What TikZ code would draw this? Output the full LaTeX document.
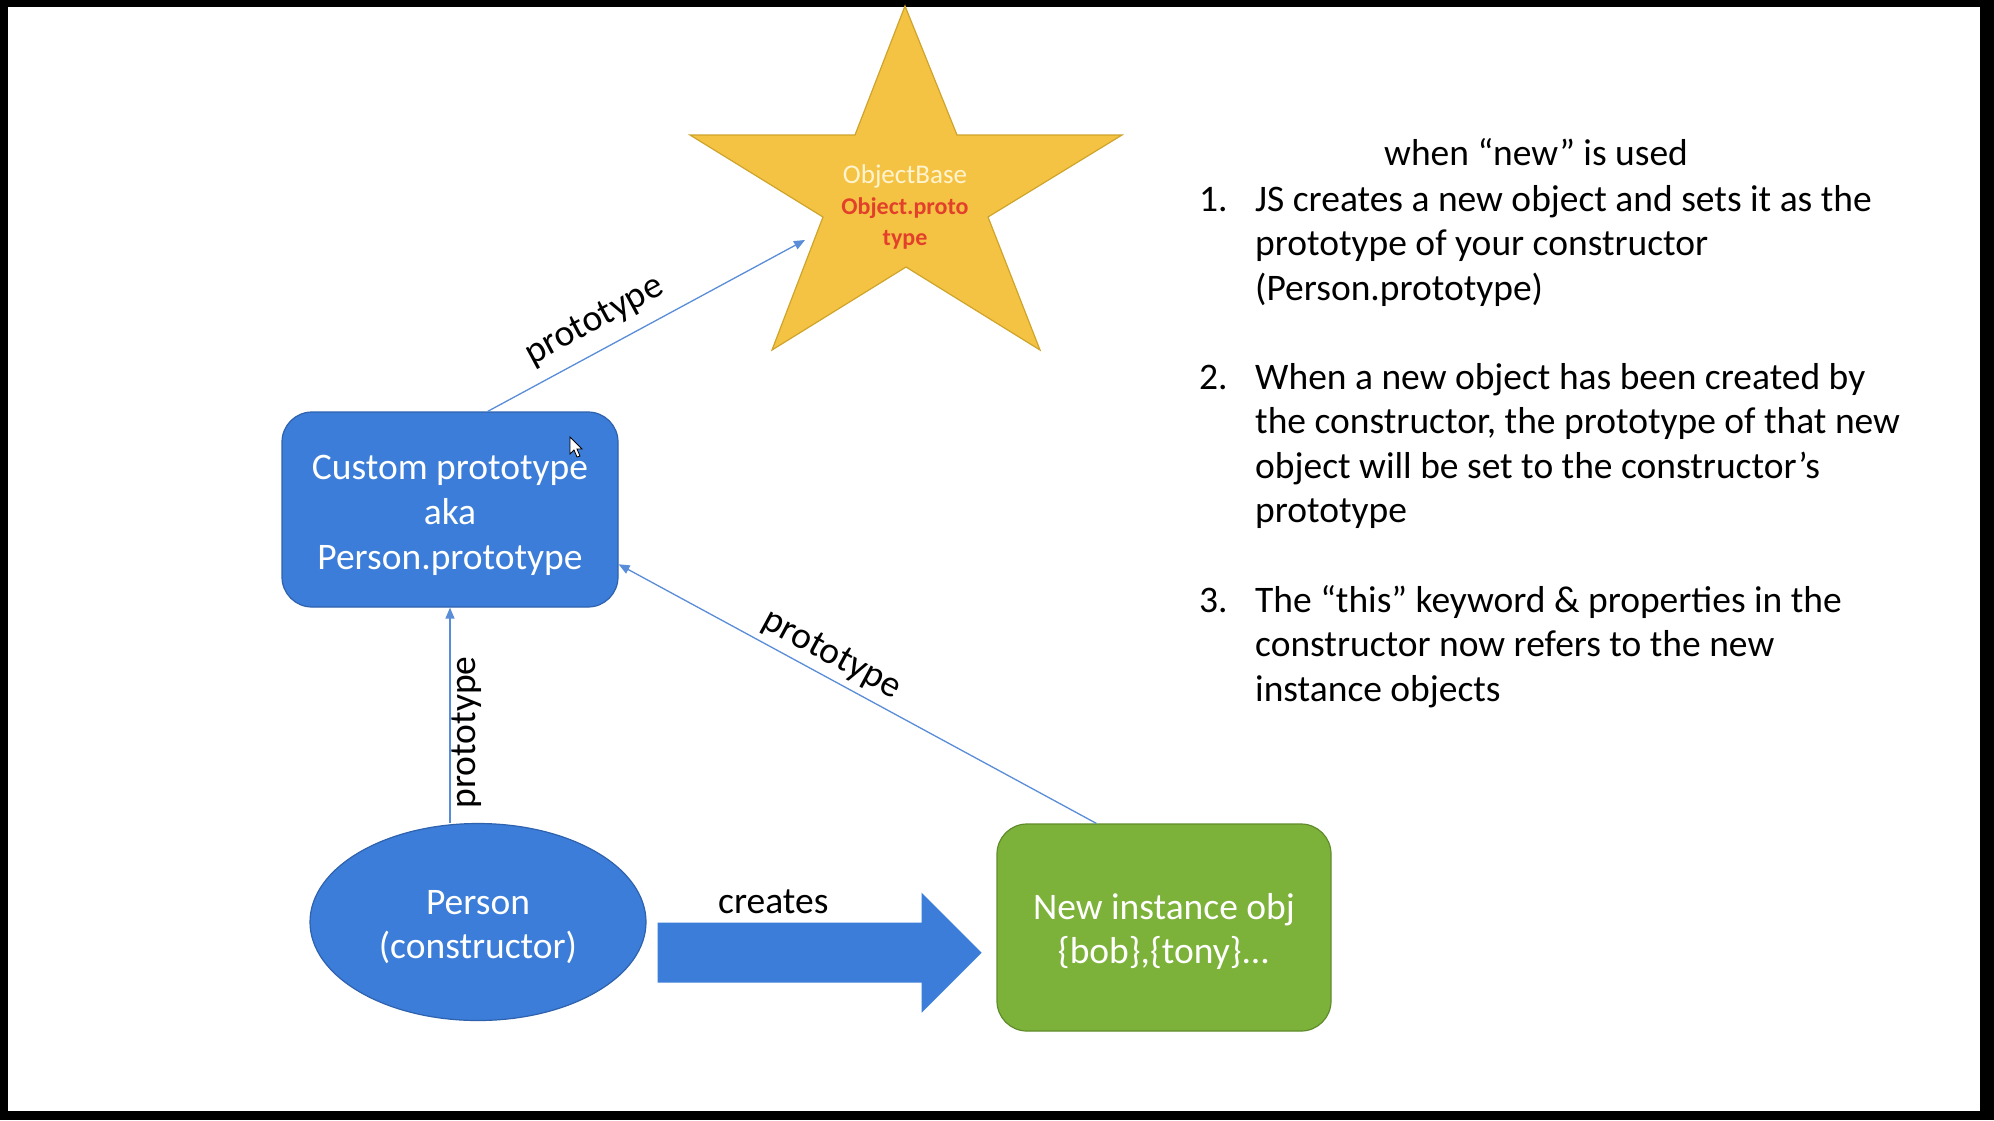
\documentclass[tikz,border=0pt]{standalone}
\usepackage{fontspec}
\setmainfont{Carlito}
\usepackage{xcolor}
\usetikzlibrary{arrows.meta,shapes.geometric}

\definecolor{boxblue}{HTML}{3B7DD8}
\definecolor{boxedge}{HTML}{2F62AE}
\definecolor{instgreen}{HTML}{7DB23A}
\definecolor{instedge}{HTML}{5F8C2B}
\definecolor{stargold}{HTML}{F5C343}
\definecolor{staredge}{HTML}{CFA42A}
\definecolor{linkblue}{HTML}{5A8DD8}
\definecolor{basetext}{HTML}{FFF4CF}
\definecolor{prototext}{HTML}{E2402B}

\begin{document}
\begin{tikzpicture}[x=1pt,y=-1pt,
  txt/.style={font=\fontsize{37.5}{44.6}\selectfont, inner sep=0pt},
  protobox/.style={txt, rectangle, rounded corners=30pt, draw=boxedge, line width=1.2pt,
    fill=boxblue, text=white, align=center, minimum width=336pt, minimum height=195pt},
  ctornode/.style={txt, ellipse, draw=boxedge, line width=1.2pt, fill=boxblue,
    text=white, align=center, minimum width=336pt, minimum height=197pt},
  instbox/.style={txt, rectangle, rounded corners=30pt, draw=instedge, line width=1.2pt,
    fill=instgreen, text=white, align=center, minimum width=334pt, minimum height=207pt},
  protoline/.style={draw=linkblue, line width=1.3pt, -{Triangle[length=11pt,width=9pt]}},
  lbl/.style={txt, text=black}]

% screen frame
\fill[black] (0,0) rectangle (1994,1120);
\fill[white] (8,7) rectangle (1980,1111);

% ObjectBase star
\filldraw[fill=stargold, draw=staredge, line width=1.2pt]
  (905,6) -- (957,135) -- (1122,135) -- (988,217) -- (1040,350)
  -- (906,267) -- (772,350) -- (823,217) -- (690,135) -- (855,135) -- cycle;
\node[inner sep=0pt, anchor=base, align=center, font=\fontsize{24}{31}\selectfont] (objbase) at (905,245)
  {{\fontsize{27}{31}\selectfont\textcolor{basetext}{ObjectBase}}\\\textcolor{prototext}{\bfseries Object.proto}\\\textcolor{prototext}{\bfseries type}};
\coordinate (starhit) at (805,240);

% nodes
\node[protobox] (custom) at (450,509.5) {\rule{0pt}{36pt}Custom prototype\\aka\\Person.prototype};
\node[ctornode] (person) at (478,922) {\rule{0pt}{34pt}Person\\(constructor)};
\node[instbox] (inst) at (1164,927.5) {\rule{0pt}{34pt}New instance obj\\\{bob\},\{tony\}...};

% mouse pointer
\filldraw[fill=white, draw=black, line width=0.8pt]
  (570,437) -- (570,454) -- (574,450) -- (577,457) -- (580,456) -- (577,449) -- (582,449) -- cycle;

% prototype links
\draw[protoline] (custom.69) -- node[lbl, sloped, above=13pt, pos=0.38] {prototype} (starhit);
\draw[protoline] (person.north -| custom.south) -- node[lbl, sloped, below=1pt, pos=0.42] {prototype} (custom.south);
\draw[protoline] (inst.123) -- node[lbl, sloped, above=6pt, pos=0.576] {prototype} (custom.-18);

% creates arrow
\fill[boxblue] (657.7,922.7) -- (921.7,922.7) -- (921.7,892.7) -- (981.7,952.7)
  -- (921.7,1012.7) -- (921.7,982.7) -- (657.7,982.7) -- cycle;
\node[lbl, anchor=base west] (creates) at (718,913) {creates};

% explanation
\node[lbl, anchor=base west] (head) at (1384,165) {when “new” is used};
\node[lbl, anchor=base west] (n1) at (1199,211) {1.};
\node[lbl, anchor=base west, align=left] (item1) at (1255,300.2)
  {JS creates a new object and sets it as the\\prototype of your constructor\\(Person.prototype)};
\node[lbl, anchor=base west] (n2) at (1199,389) {2.};
\node[lbl, anchor=base west, align=left] (item2) at (1255,522.8)
  {When a new object has been created by\\the constructor, the prototype of that new\\object will be set to the constructor’s\\prototype};
\node[lbl, anchor=base west] (n3) at (1199,612) {3.};
\node[lbl, anchor=base west, align=left] (item3) at (1255,701.2)
  {The “this” keyword \& properties in the\\constructor now refers to the new\\instance objects};
\end{tikzpicture}
\end{document}
